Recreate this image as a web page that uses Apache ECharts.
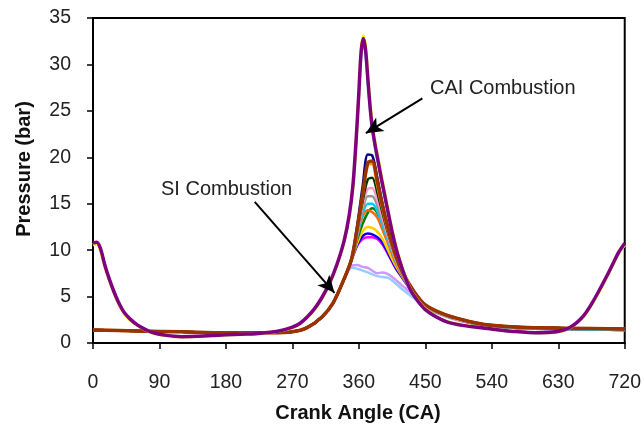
<!DOCTYPE html>
<html><head><meta charset="utf-8">
<script src="https://cdn.jsdelivr.net/npm/echarts@6/dist/echarts.min.js"></script>
<style>html,body{margin:0;padding:0;background:#fff}#c{width:644px;height:432px}</style>
</head><body><div id="c"></div>
<script>
// Crank angle grids
const angleSI  = [0,60,120,180,240,270,290,310,325,340,350,358,365,372,378,385,392,400,410,420,435,450,475,500,530,580,640,720];
const angleCAI = [0,5,10,16,22,28,35,42,50,60,70,80,90,100,110,120,140,160,180,200,220,240,255,270,280,290,300,310,320,330,340,347,352,356,360,363,366,369,372,375,378,382,386,390,395,400,405,410,415,420,430,440,450,465,480,500,520,540,570,600,620,635,645,655,665,675,685,695,705,712,720];

// SI combustion cycles (pressure, bar)
const siNavy    = [1.4,1.3,1.2,1.1,1.1,1.2,1.65,2.8,4.3,6.9,9.0,12.8,16.8,20.3,20.2,17.8,15.0,12.3,9.5,7.5,5.5,4.1,3.1,2.5,2.0,1.7,1.6,1.5];
const siBrown   = [1.4,1.3,1.2,1.1,1.1,1.2,1.65,2.8,4.3,6.9,9.0,12.5,16.0,19.4,19.6,17.4,14.8,12.2,9.4,7.5,5.5,4.1,3.1,2.5,2.0,1.7,1.6,1.5];
const siOrange  = [1.4,1.3,1.2,1.1,1.1,1.2,1.65,2.8,4.3,6.9,9.0,12.4,15.8,19.2,19.3,17.0,14.5,12.0,9.3,7.4,5.5,4.1,3.1,2.5,2.0,1.7,1.6,1.5];
const siDkGreen = [1.4,1.3,1.2,1.1,1.1,1.2,1.65,2.8,4.3,6.9,9.0,12.2,15.2,17.6,17.8,16.2,14.0,11.7,9.2,7.4,5.4,4.1,3.1,2.5,2.0,1.7,1.6,1.5];
const siRose    = [1.4,1.3,1.2,1.1,1.1,1.2,1.65,2.8,4.3,6.9,9.0,12.0,14.8,16.6,16.7,15.4,13.5,11.4,9.0,7.3,5.4,4.0,3.0,2.4,2.0,1.7,1.6,1.5];
const siGray    = [1.4,1.3,1.2,1.1,1.1,1.2,1.65,2.8,4.3,6.9,9.0,11.8,14.3,15.8,15.8,14.8,13.1,11.1,8.9,7.2,5.3,4.0,3.0,2.4,1.9,1.7,1.6,1.5];
const siSky     = [1.4,1.3,1.2,1.1,1.1,1.2,1.65,2.8,4.3,6.9,9.0,11.6,13.9,15.0,15.0,14.2,12.7,10.9,8.8,7.2,5.3,4.0,3.0,2.4,1.9,1.6,1.5,1.4];
const siOrange2 = [1.4,1.3,1.2,1.1,1.1,1.2,1.65,2.8,4.3,6.9,9.0,11.5,13.6,14.3,14.1,13.5,12.2,10.6,8.6,7.1,5.3,4.0,3.0,2.4,1.9,1.7,1.6,1.5];
const siGreen   = [1.4,1.3,1.2,1.1,1.1,1.2,1.65,2.8,4.3,6.9,9.0,11.2,12.8,14.0,14.5,14.0,12.6,10.8,8.7,7.1,5.3,4.0,3.0,2.4,1.9,1.7,1.6,1.5];
const siGold    = [1.4,1.3,1.2,1.1,1.1,1.2,1.65,2.8,4.3,6.9,9.0,10.8,12.0,12.5,12.4,12.0,11.2,9.9,8.3,7.0,5.2,3.9,3.0,2.4,1.9,1.6,1.5,1.4];
const siBlue    = [1.4,1.3,1.2,1.1,1.1,1.2,1.65,2.8,4.3,6.9,9.0,10.6,11.5,11.8,11.7,11.4,10.8,9.6,8.1,6.9,5.2,3.9,3.0,2.4,1.9,1.6,1.5,1.4];
const siMagenta = [1.4,1.3,1.2,1.1,1.1,1.2,1.65,2.8,4.3,6.9,8.9,10.5,11.2,11.4,11.4,11.2,10.6,9.5,8.0,6.9,5.2,3.9,3.0,2.4,1.9,1.6,1.5,1.4];
const siLavender= [1.4,1.3,1.2,1.1,1.1,1.2,1.65,2.8,4.3,6.9,8.3,8.4,8.2,8.1,7.8,7.5,7.6,7.4,6.8,6.1,5.1,4.0,3.0,2.4,1.9,1.6,1.5,1.4];
const siPaleBlue= [1.4,1.3,1.2,1.1,1.1,1.2,1.65,2.8,4.3,6.9,8.1,8.0,7.8,7.6,7.4,7.2,7.1,7.0,6.4,5.7,4.8,3.8,2.9,2.3,1.9,1.6,1.5,1.4];

// CAI combustion cycles (pressure, bar)
const caiPurple = [10.75,10.85,10.2,8.4,6.9,5.6,4.3,3.3,2.6,1.95,1.5,1.15,0.95,0.82,0.72,0.68,0.72,0.8,0.88,0.95,1.0,1.15,1.35,1.7,2.1,2.8,3.7,4.9,6.4,8.4,11.0,13.8,17.0,21.5,27.0,31.3,32.8,31.6,28.6,25.6,23.3,21.3,19.6,17.9,15.9,13.9,12.0,10.3,8.9,7.7,5.7,4.5,3.6,2.8,2.25,1.9,1.7,1.5,1.25,1.1,1.15,1.35,1.65,2.2,3.0,4.2,5.6,7.1,8.7,9.8,10.75];
const caiYellow = [10.55,10.65,10.0,8.2,6.8,5.5,4.2,3.2,2.5,1.9,1.45,1.1,0.92,0.8,0.7,0.66,0.7,0.78,0.86,0.93,0.98,1.12,1.32,1.66,2.05,2.75,3.6,4.8,6.3,8.3,10.9,13.6,16.8,21.2,26.8,31.5,33.1,32.0,29.0,26.0,23.7,21.6,19.9,18.2,16.2,14.1,12.2,10.5,9.0,7.8,5.8,4.6,3.7,2.85,2.3,1.95,1.72,1.5,1.25,1.1,1.12,1.3,1.6,2.15,2.95,4.1,5.5,7.0,8.6,9.7,10.55];
const caiCyan   = [10.65,10.75,10.1,8.3,6.85,5.55,4.25,3.25,2.55,1.9,1.48,1.12,0.93,0.8,0.7,0.66,0.7,0.79,0.87,0.94,0.99,1.13,1.33,1.68,2.08,2.78,3.65,4.85,6.35,8.35,10.9,13.7,16.9,21.3,26.6,30.8,32.2,31.2,28.2,25.2,23.0,21.0,19.4,17.7,15.7,13.8,11.9,10.2,8.8,7.6,5.6,4.45,3.55,2.78,2.22,1.88,1.68,1.48,1.22,1.08,1.12,1.32,1.62,2.18,2.98,4.15,5.55,7.05,8.65,9.75,10.65];

// Annotation arrows (data coords): [fromAngle, fromP, toAngle, toP]
const arrowCAI = [446, 26.35, 369.5, 22.6];
const arrowSI  = [219, 15.2, 327, 5.4];

const FONT = "'Liberation Sans', Arial, sans-serif";

function pair(xs, ys){ return xs.map((x,i)=>[x, ys[i]]); }
function mk(name, xs, ys, color, w){
  return {name, type:'line', data: pair(xs, ys), showSymbol:false, symbol:'none',
          smooth:0.3, lineStyle:{color, width:w}, itemStyle:{color}, silent:true, z:2};
}

const series = [
  mk('SI-pb', angleSI, siPaleBlue, '#99CCFF', 2.5),
  mk('SI-lv', angleSI, siLavender, '#CC99FF', 2.5),
  mk('SI-mg', angleSI, siMagenta, '#FF00FF', 2.5),
  mk('SI-bl', angleSI, siBlue, '#0000FF', 2.5),
  mk('SI-gd', angleSI, siGold, '#FFCC00', 2.5),
  mk('SI-gr', angleSI, siGreen, '#008000', 2.5),
  mk('SI-o2', angleSI, siOrange2, '#FF6600', 2.5),
  mk('SI-sk', angleSI, siSky, '#00CCFF', 2.5),
  mk('SI-gy', angleSI, siGray, '#969696', 2.5),
  mk('SI-rs', angleSI, siRose, '#FF99CC', 2.5),
  mk('SI-dg', angleSI, siDkGreen, '#003300', 2.5),
  mk('SI-or', angleSI, siOrange, '#FF9900', 3),
  mk('SI-nv', angleSI, siNavy, '#000080', 2.5),
  mk('SI-br', angleSI, siBrown, '#993300', 3.5),
  mk('CAI-cy', angleCAI, caiCyan, '#00FFFF', 2.5),
  mk('CAI-ye', angleCAI, caiYellow, '#FFFF00', 3),
  mk('CAI-pu', angleCAI, caiPurple, '#800080', 3.5)
];
series.push({
  type:'line', data:[], silent:true,
  markLine:{
    silent:true, symbol:['none','arrow'], symbolSize:[12,17], animation:false,
    label:{show:false},
    lineStyle:{color:'#000', width:2, type:'solid'},
    data:[
      [{coord:[arrowCAI[0],arrowCAI[1]]},{coord:[arrowCAI[2],arrowCAI[3]]}],
      [{coord:[arrowSI[0],arrowSI[1]]},{coord:[arrowSI[2],arrowSI[3]]}]
    ]
  }
});

const chart = echarts.init(document.getElementById('c'), null, {renderer:'canvas'});
chart.setOption({
  animation:false,
  backgroundColor:'#fff',
  grid:{left:93, right:18, top:18, bottom:89, show:true, borderColor:'#000', borderWidth:2, backgroundColor:'transparent'},
  xAxis:{type:'value', min:0, max:720, interval:90,
    axisLine:{show:true, onZero:false, lineStyle:{color:'#000', width:2}},
    axisTick:{show:true, length:6, lineStyle:{color:'#000', width:1.5}},
    axisLabel:{margin:30, color:'#222', fontSize:19.5, fontFamily:FONT},
    splitLine:{show:false}},
  yAxis:{type:'value', min:0, max:35, interval:5,
    axisLine:{show:true, onZero:false, lineStyle:{color:'#000', width:2}},
    axisTick:{show:true, length:6, lineStyle:{color:'#000', width:1.5}},
    axisLabel:{margin:22, color:'#222', fontSize:19.5, fontFamily:FONT},
    splitLine:{show:false}},
  series,
  graphic:[
    {type:'text', x:24, y:169, rotation:Math.PI/2,
     style:{text:'Pressure (bar)', fontSize:20, fontWeight:'bold', fontFamily:FONT, fill:'#111', align:'center', verticalAlign:'middle'}},
    {type:'text', x:358, y:413,
     style:{text:'Crank Angle (CA)', fontSize:20, fontWeight:'bold', fontFamily:FONT, fill:'#111', align:'center', verticalAlign:'middle'}},
    {type:'text', x:430, y:88,
     style:{text:'CAI Combustion', fontSize:20, fontFamily:FONT, fill:'#222', align:'left', verticalAlign:'middle'}},
    {type:'text', x:161, y:189,
     style:{text:'SI Combustion', fontSize:20, fontFamily:FONT, fill:'#222', align:'left', verticalAlign:'middle'}}
  ]
});
</script>
</body></html>
